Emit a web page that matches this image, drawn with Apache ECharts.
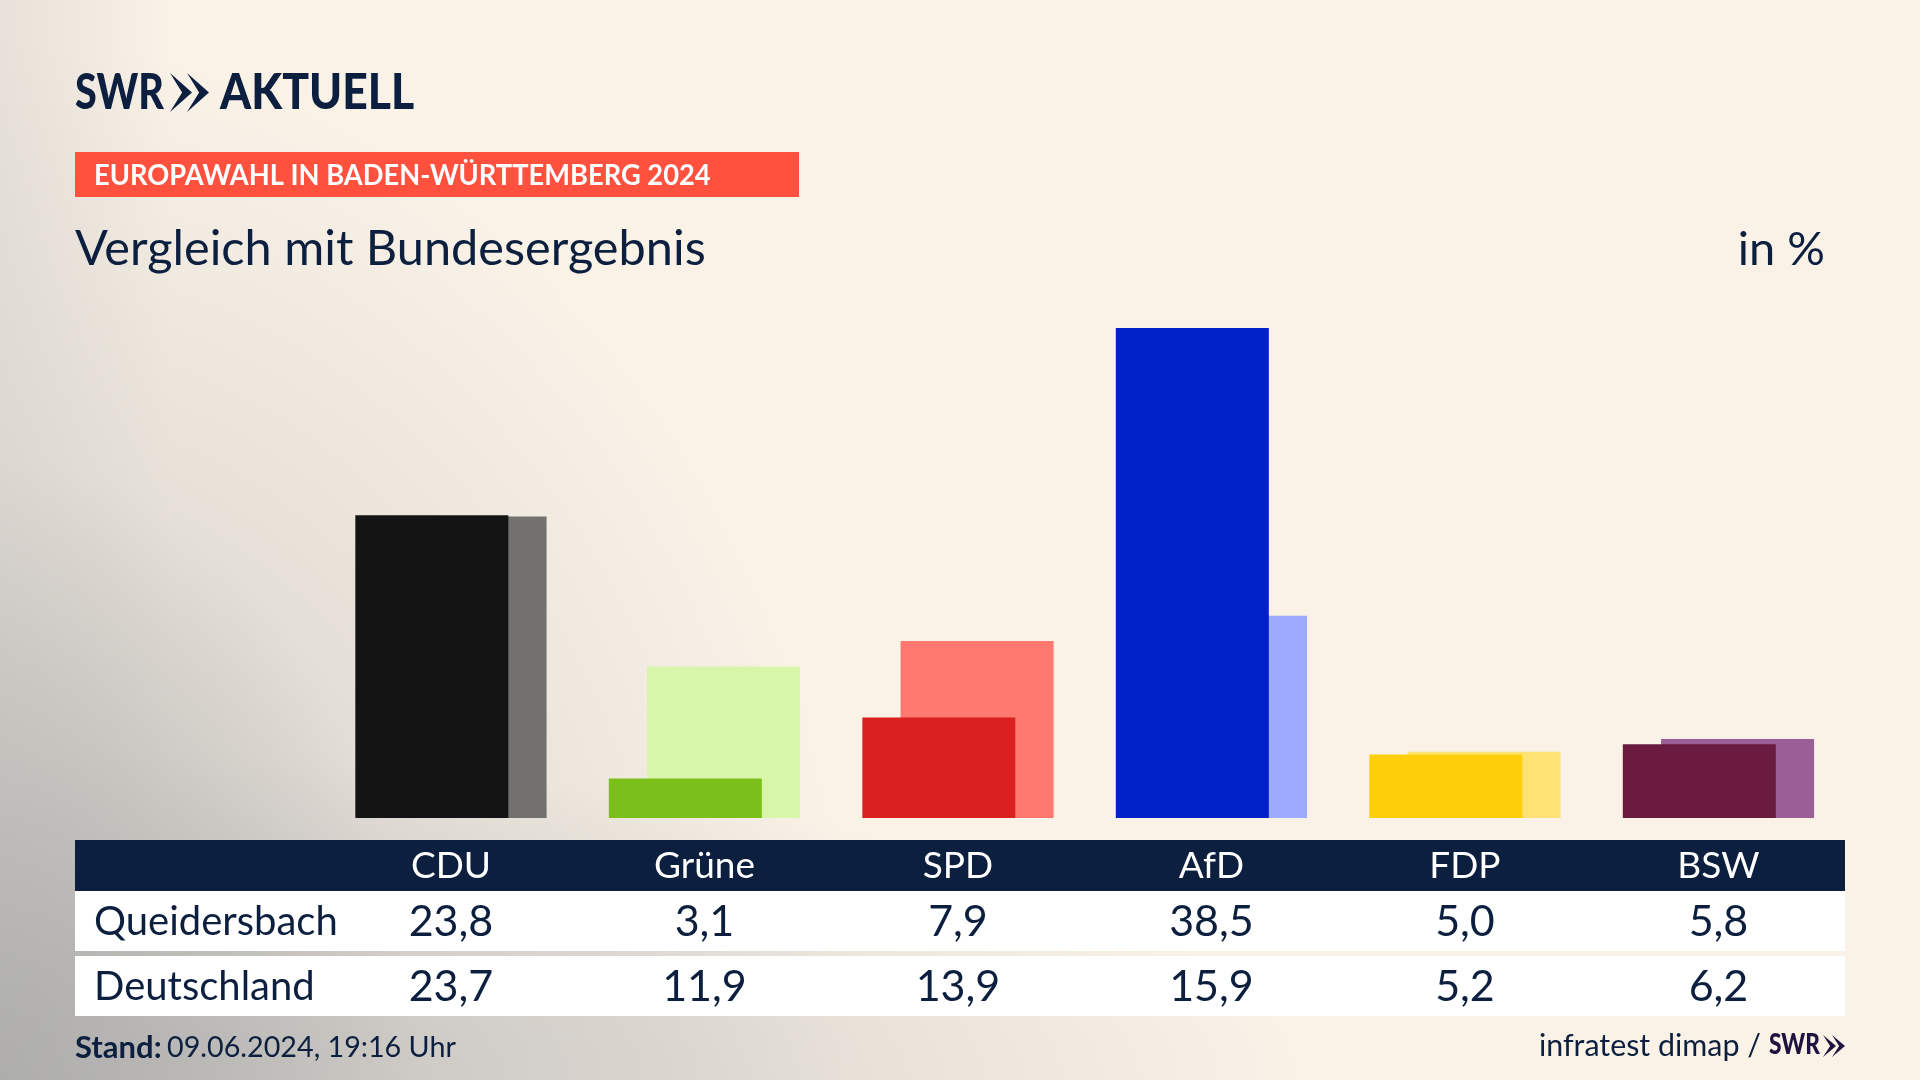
<!DOCTYPE html>
<html>
<head>
<meta charset="utf-8">
<style>
html, body { margin: 0; padding: 0; }
body {
	width: 1920px; height: 1080px; overflow: hidden;
	background:
		radial-gradient(ellipse 420px 620px at 0 1080px, rgba(168,168,167,0.75) 0, rgba(168,168,167,0) 100%),
		radial-gradient(ellipse 1300px 330px at 0 1080px, rgba(190,188,186,0.8) 0, rgba(200,197,193,0.5) 55%, rgba(200,197,193,0) 100%),
		radial-gradient(ellipse 860px 1040px at 0 1080px, rgba(196,194,191,0.85) 0, rgba(206,203,198,0.55) 50%, rgba(220,214,206,0) 100%),
		linear-gradient(to right, #e7e1d9 0, #faf2e7 170px);
}
#chart { width: 1920px; height: 1080px; }
</style>
<script src="https://cdn.jsdelivr.net/npm/echarts@6/dist/echarts.min.js"></script>
</head>
<body>
<div id="chart"></div>
<script>
"use strict";

var parties = ['CDU', 'Grüne', 'SPD', 'AfD', 'FDP', 'BSW'];
var queidersbach = [23.8, 3.1, 7.9, 38.5, 5.0, 5.8];
var deutschland = [23.7, 11.9, 13.9, 15.9, 5.2, 6.2];

var frontColors = ['#141414', '#7abf1a', '#d9201e', '#0021c8', '#ffcf0b', '#6b1a40'];
var backColors = ['#72716f', '#d8f6a9', '#ff7870', '#9eaaff', '#ffe273', '#9a5f96'];

var navy = '#0c1f3f';
var textFont = 'Lato, "Noto Sans", sans-serif';

function comma(v) {
	return v.toFixed(1).replace('.', ',');
}

function colored(values, colors) {
	return values.map(function(v, i) {
		return { value: v, itemStyle: { color: colors[i] } };
	});
}

function tableAxis(data, margin, color, size) {
	return {
		type: 'category',
		gridIndex: 0,
		position: 'bottom',
		data: data,
		axisLine: { show: false },
		axisTick: { show: false },
		axisLabel: {
			interval: 0,
			margin: margin,
			color: color,
			fontFamily: textFont,
			fontSize: size,
			verticalAlign: 'middle'
		}
	};
}

function label(text, x, y, size, opts) {
	opts = opts || {};
	return {
		type: 'text',
		x: x,
		y: y,
		z: 5,
		scaleX: opts.scaleX || 1,
		style: {
			text: text,
			fill: opts.fill || navy,
			font: (opts.weight || 'normal') + ' ' + size + 'px ' + textFont,
			align: opts.align || 'left',
			verticalAlign: 'middle'
		}
	};
}

function box(x, y, w, h, color) {
	return { type: 'rect', z: 0, shape: { x: x, y: y, width: w, height: h }, style: { fill: color } };
}

function chevron(x, y, w, h, color) {
	return {
		type: 'polygon',
		z: 5,
		shape: { points: [[x, y], [x + w, y + h / 2], [x, y + h], [x + w * 0.55, y + h / 2]] },
		style: { fill: color }
	};
}

var myChart = echarts.init(document.getElementById('chart'), null, { renderer: 'canvas' });

myChart.setOption({
	animation: false,
	backgroundColor: 'transparent',
	grid: { left: 324.2, width: 1521, top: 309, height: 509 },
	xAxis: [
		tableAxis(parties, 48, '#ffffff', 37),
		tableAxis(queidersbach.map(comma), 104, navy, 43),
		tableAxis(deutschland.map(comma), 169, navy, 43)
	],
	yAxis: { type: 'value', min: 0, max: 40, show: false },
	series: [
		{
			name: 'Queidersbach',
			type: 'bar',
			z: 3,
			barWidth: 153,
			barGap: '-75%',
			data: colored(queidersbach, frontColors)
		},
		{
			name: 'Deutschland',
			type: 'bar',
			z: 2,
			barWidth: 153,
			barGap: '-75%',
			data: colored(deutschland, backColors)
		}
	],
	graphic: [
		box(75, 840, 1770, 51, navy),
		box(75, 891, 1770, 60, '#ffffff'),
		box(75, 956, 1770, 60, '#ffffff'),
		box(75, 152, 724, 45, '#ff513d'),

		label('SWR', 75, 93, 50, { weight: '900', scaleX: 0.79 }),
		chevron(170, 73, 22, 39, navy),
		chevron(187, 73, 22, 39, navy),
		label('AKTUELL', 220, 93, 50, { weight: '900', scaleX: 0.89 }),

		label('EUROPAWAHL IN BADEN-WÜRTTEMBERG 2024', 94, 176, 28, { weight: 'bold', fill: '#ffffff', scaleX: 0.974 }),
		label('Vergleich mit Bundesergebnis', 75, 249.5, 48, { scaleX: 1.014 }),
		label('in %', 1825, 250, 47, { align: 'right' }),

		label('Queidersbach', 94, 922, 40),
		label('Deutschland', 94, 987, 40),

		label('Stand:', 75, 1048, 31, { weight: 'bold' }),
		label('09.06.2024, 19:16 Uhr', 167, 1048, 28.7),
		label('infratest dimap /', 1761, 1046, 30.4, { align: 'right' }),
		label('SWR', 1769, 1045, 29, { weight: '900', fill: '#1e1240', scaleX: 0.78 }),
		chevron(1823, 1035, 13, 22, '#1e1240'),
		chevron(1832, 1035, 13, 22, '#1e1240')
	]
});
</script>
</body>
</html>
